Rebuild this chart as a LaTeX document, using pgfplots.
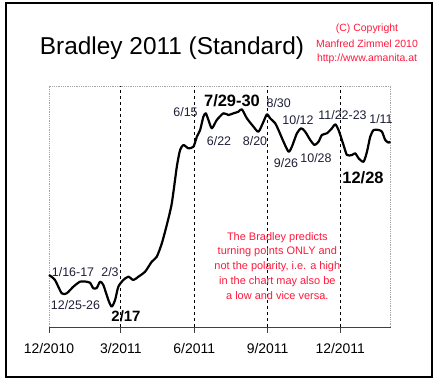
\documentclass[border=0pt]{standalone}
\usepackage{fontspec}
\setmainfont{Liberation Sans}
\usepackage{pgfplots}
\pgfplotsset{compat=1.18}
\definecolor{cred}{RGB}{255,25,60}
\definecolor{lblue}{RGB}{30,30,55}
\begin{document}
\begin{tikzpicture}[x=1bp,y=1bp]
\path (0,0) rectangle (437,383);
\draw[line width=2bp] (6,6) rectangle (432,380);
\begin{axis}[
  at={(49bp,56bp)}, anchor=south west,
  scale only axis, width=341.5bp, height=241bp,
  xmin=0, xmax=428, ymin=0, ymax=241,
  axis x line=bottom, axis y line=none,
  axis line style={-, black!75, line width=0.9bp},
  xtick={0,90,182,274,365},
  xticklabels={12/2010,3/2011,6/2011,9/2011,12/2011},
  tick align=outside, major tick length=6bp,
  tick style={black!75, line width=0.9bp},
  xticklabel style={font=\fontsize{14}{16}\selectfont, yshift=-7bp},
  clip=false,
]
\draw[gray!70, densely dotted, line width=0.8bp] (rel axis cs:0,0) -- (rel axis cs:0,1) -- (rel axis cs:1,1) -- (rel axis cs:1,0);
\foreach \d in {90,182,274,365}{
  \edef\tmp{\noexpand\draw[black, dash pattern=on 3bp off 3bp, line width=0.8bp] (axis cs:\d,0) -- (axis cs:\d,241);}
  \tmp
}
\addplot[black, line width=2.2bp, smooth, tension=0.4, line join=round] coordinates {
(0,52) (7.5,47) (15.9,33.7) (22.2,33.7) (30.5,40.3) (38.9,45.3) (47.3,45.3)
(51.4,44.3) (55.6,38.7) (59.8,39) (64.0,45.3) (68.1,42) (74.4,27) (78.6,20.3)
(82.8,27) (86.9,40.3) (93.2,47) (99.5,50.3) (105.7,47) (112.0,50.3) (120.4,55.3)
(128.8,65.3) (135.1,70.3) (141.4,83.7) (147.6,102) (153.9,123.7) (160.2,160.3)
(164.3,177) (168.5,182) (174.7,178.7) (181.0,180.3) (185.3,190.3) (189.4,197)
(193.5,210.3) (196.5,213.7) (199.8,207) (204.1,198.7) (210.3,207) (218.6,213.7)
(224.9,212) (231.2,213.7) (237.4,215.3) (241.7,217.7) (248.0,208.7) (256.3,200.3)
(262.5,195.3) (268.8,205.3) (273.1,212.7) (277.2,208.7) (283.5,203.7) (287.6,197)
(293.9,185.3) (300.2,175.3) (304.4,180.3) (310.7,193.7) (316.1,198.7) (321.1,195.3)
(327.4,187) (332.8,182) (337.8,185.3) (342.0,192) (348.3,193.7) (354.6,198.7)
(358.7,202.7) (362.9,197) (369.1,182) (373.4,172) (379.7,172) (383.8,173.7)
(388.0,168.7) (394.2,165.3) (398.5,175.3) (402.6,190.3) (406.8,197) (413.0,197)
(417.3,195.3) (421.4,187) (425.6,184.3) (427.7,185.3)
};
\end{axis}
% title and copyright
\node[font=\fontsize{24.5}{27}\selectfont] at (172,335.3) {Bradley 2011 (Standard)};
\node[font=\fontsize{10.5}{12}\selectfont, text=cred] at (367,354) {(C) Copyright};
\node[font=\fontsize{10.5}{12}\selectfont, text=cred] at (367,339) {Manfred Zimmel 2010};
\node[font=\fontsize{10.5}{12}\selectfont, text=cred] at (367,324) {http://www.amanita.at};
% turning point labels
\begin{scope}[every node/.style={font=\fontsize{12.5}{14}\selectfont, text=lblue, inner sep=0pt}]
\node at (73,111) {1/16-17};
\node at (110,111) {2/3};
\node at (75.5,78) {12/25-26};
\node at (185.5,271.3) {6/15};
\node at (219,242.3) {6/22};
\node at (255,242.3) {8/20};
\node at (278.7,280.3) {8/30};
\node at (298,263) {10/12};
\node at (342.5,268) {11/22-23};
\node at (381,264) {1/11};
\node at (286,219.7) {9/26};
\node at (316,224.7) {10/28};
\end{scope}
\begin{scope}[every node/.style={inner sep=0pt}]
\node[font=\bfseries\fontsize{15}{17}\selectfont] at (126,66.3) {2/17};
\node[font=\bfseries\fontsize{16.5}{18}\selectfont] at (232,282.3) {7/29-30};
\node[font=\bfseries\fontsize{16.5}{18}\selectfont] at (363,205.3) {12/28};
\end{scope}
\node[font=\fontsize{11}{15}\selectfont, text=cred, align=center] at (277.3,117) {The Bradley predicts\\turning points ONLY and\\not the polarity, i.e. a high\\in the chart may also be\\a low and vice versa.};
\end{tikzpicture}
\end{document}
